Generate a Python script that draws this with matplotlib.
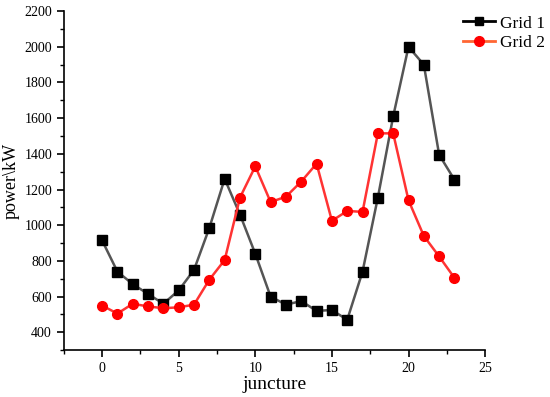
import matplotlib.pyplot as plt
from matplotlib.ticker import MultipleLocator

plt.rcParams['font.family'] = ['Liberation Serif', 'DejaVu Serif']

juncture = list(range(24))
grid1 = [915, 740, 670, 615, 560, 635, 750, 985, 1260, 1060, 840, 600,
         555, 575, 520, 525, 470, 740, 1155, 1610, 2000, 1900, 1395, 1255]
grid2 = [550, 505, 560, 545, 535, 540, 555, 695, 805, 1155, 1330, 1130,
         1160, 1245, 1345, 1025, 1080, 1075, 1515, 1515, 1140, 940, 825, 705]

fig = plt.figure(figsize=(5.5, 3.97), dpi=100)
ax = fig.add_axes([0.116, 0.118, 0.766, 0.854])

ax.plot(juncture, grid1, color='#555555', lw=1.8, marker='s', ms=6.5,
        mfc='black', mec='black')
ax.plot(juncture, grid2, color='#ff3333', lw=1.8, marker='o', ms=7,
        mfc='red', mec='red')

# legend handles drawn with their own colours
h1, = ax.plot([], [], color='black', lw=2, marker='s', ms=6, mfc='black', mec='black')
h2, = ax.plot([], [], color='#ff6633', lw=2, marker='o', ms=7, mfc='red', mec='red')
fig.legend([h1, h2], ['Grid 1', 'Grid 2'], loc='upper left', frameon=False,
           fontsize=12.5, bbox_to_anchor=(0.836, 0.97), handlelength=1.8,
           handletextpad=0.3, labelspacing=0.2, borderaxespad=0.0,
           borderpad=0.2)

ax.set_xlim(-2.5, 25)
ax.set_ylim(300, 2200)
ax.xaxis.set_major_locator(MultipleLocator(5))
ax.xaxis.set_minor_locator(MultipleLocator(2.5))
ax.yaxis.set_major_locator(MultipleLocator(200))
ax.yaxis.set_minor_locator(MultipleLocator(100))
ax.set_yticks(range(400, 2201, 200))

for s in ['top', 'right']:
    ax.spines[s].set_visible(False)
for s in ['left', 'bottom']:
    ax.spines[s].set_linewidth(1.2)
ax.tick_params(which='major', direction='out', length=5, width=1.2, labelsize=10)
ax.tick_params(which='minor', direction='out', length=3, width=1.0)

ax.set_xlabel('juncture', fontsize=14, labelpad=1)
ax.set_ylabel('power\\kW', fontsize=13, labelpad=3)

fig.savefig('out.png', dpi=100)
